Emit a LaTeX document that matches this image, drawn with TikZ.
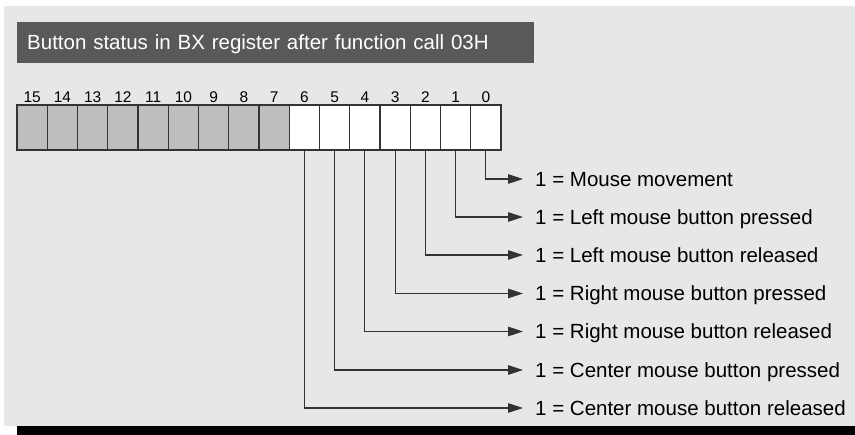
\documentclass[tikz,border=0pt]{standalone}
\usepackage{fontspec}
\setmainfont{Liberation Sans}
\usetikzlibrary{positioning,arrows.meta}
\definecolor{panelgrey}{HTML}{E6E7E8}
\definecolor{titlegrey}{HTML}{58595B}
\definecolor{cellgrey}{HTML}{BCBEC0}
\definecolor{linegrey}{HTML}{333333}

\begin{document}
\begin{tikzpicture}
   [x=1pt, y=-1pt, node distance=0pt, label distance=2pt,
    bit/.style={draw=linegrey, line width=1.1pt, minimum width=30.25pt, minimum height=45pt, inner sep=0pt, outer sep=0pt},
    spare bit/.style={bit, fill=cellgrey},
    used bit/.style={bit, fill=white},
    bitnum/.style={font=\fontsize{15.5}{15.5}\selectfont, inner sep=0pt},
    title/.style={anchor=north west, fill=titlegrey, text=white, font=\fontsize{20.5}{20.5}\selectfont, text width=497pt, inner xsep=10pt, inner ysep=0pt, minimum height=41pt, text height=14.6pt, text depth=0pt},
    meaning/.style={anchor=west, inner sep=0pt, font=\fontsize{20.5}{20.5}\selectfont, text height=14.6pt, text depth=0pt},
    flag/.style={draw=linegrey, line width=1.1pt, -{Triangle[length=15pt,width=9.5pt]}, shorten >=12pt}]
   \useasboundingbox (0,0) rectangle (855,435);
   \fill[panelgrey] (4,6) rectangle (855,426);
   \fill[black] (17,426) rectangle (855,435);

   \node[title] (head) at (17,22) {Button status in BX register after function call 03H};

   % register bits
   \node[spare bit, label={[bitnum]above:15}] (b15) at (32.125,127.5) {};
   \node[spare bit, label={[bitnum]above:14}, right=of b15] (b14) {};
   \node[spare bit, label={[bitnum]above:13}, right=of b14] (b13) {};
   \node[spare bit, label={[bitnum]above:12}, right=of b13] (b12) {};
   \node[spare bit, label={[bitnum]above:11}, right=of b12] (b11) {};
   \node[spare bit, label={[bitnum]above:10}, right=of b11] (b10) {};
   \node[spare bit, label={[bitnum]above:9}, right=of b10] (b9) {};
   \node[spare bit, label={[bitnum]above:8}, right=of b9] (b8) {};
   \node[spare bit, label={[bitnum]above:7}, right=of b8] (b7) {};
   \node[used bit, label={[bitnum]above:6}, right=of b7] (b6) {};
   \node[used bit, label={[bitnum]above:5}, right=of b6] (b5) {};
   \node[used bit, label={[bitnum]above:4}, right=of b5] (b4) {};
   \node[used bit, label={[bitnum]above:3}, right=of b4] (b3) {};
   \node[used bit, label={[bitnum]above:2}, right=of b3] (b2) {};
   \node[used bit, label={[bitnum]above:1}, right=of b2] (b1) {};
   \node[used bit, label={[bitnum]above:0}, right=of b1] (b0) {};

   % meanings
   \node[meaning] (m0) at (535,179) {1 = Mouse movement};
   \node[meaning] (m1) at (535,217) {1 = Left mouse button pressed};
   \node[meaning] (m2) at (535,255) {1 = Left mouse button released};
   \node[meaning] (m3) at (535,293.5) {1 = Right mouse button pressed};
   \node[meaning] (m4) at (535,331.5) {1 = Right mouse button released};
   \node[meaning] (m5) at (535,370) {1 = Center mouse button pressed};
   \node[meaning] (m6) at (535,408) {1 = Center mouse button released};

   \draw[flag] (b0.south) |- (m0.west);
   \draw[flag] (b1.south) |- (m1.west);
   \draw[flag] (b2.south) |- (m2.west);
   \draw[flag] (b3.south) |- (m3.west);
   \draw[flag] (b4.south) |- (m4.west);
   \draw[flag] (b5.south) |- (m5.west);
   \draw[flag] (b6.south) |- (m6.west);
\end{tikzpicture}
\end{document}
